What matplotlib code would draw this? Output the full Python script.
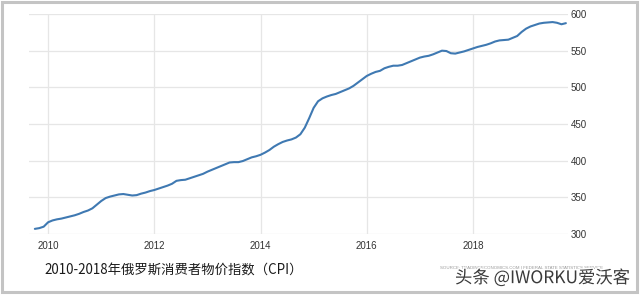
import matplotlib
matplotlib.use("Agg")
import matplotlib.pyplot as plt
import matplotlib.patheffects as pe
from matplotlib.patches import Rectangle
import numpy as np

# monthly CPI, Oct 2009 .. Oct 2019
start_year = 2009
start_month = 10
cpi = [
    307, 308, 310,
    316, 318.5, 320, 321, 322.5, 324, 325.5, 327.5, 330, 332, 335, 340,
    345, 349, 351, 352.5, 354, 354.5, 353.5, 352.5, 353, 355, 356.5, 358.5,
    360, 362, 364, 366, 368.5, 372.5, 373.5, 374, 376, 378, 380, 382,
    385, 387.5, 390, 392.5, 395, 397.5, 398, 398, 399.5, 402, 404.5, 406,
    408, 411, 414.5, 419, 422.5, 425.5, 427.5, 429, 431.5, 436, 445, 458,
    472, 481, 485, 487.5, 489.5, 491, 493.5, 496, 498.5, 502, 506.5, 511,
    515.5, 518.5, 521, 522.5, 526, 528, 529.5, 529.5, 530.5, 533, 535.5, 538,
    540.5, 542, 543, 545, 547.5, 550, 549.5, 546.5, 546, 547.5, 549, 551,
    553, 555, 556.5, 558, 560, 562.5, 564, 564.5, 565, 567.5, 570, 575.5,
    580, 583, 585, 587, 588, 588.5, 589, 588, 586, 587.5,
]
x_ticks = [2010, 2012, 2014, 2016, 2018]
y_ticks = [300, 350, 400, 450, 500, 550, 600]
title = "2010-2018年俄罗斯消费者物价指数（CPI）"
source = "SOURCE: TRADINGECONOMICS.COM | FEDERAL STATE STATISTICS SERVICE"
watermark = "头条 @IWORKU爱沃客"

t = start_year + (start_month - 1 + np.arange(len(cpi))) / 12.0

fig = plt.figure(figsize=(6.4, 2.95), dpi=100)
ax = fig.add_axes([29 / 640, 1 - 234 / 295, (568 - 29) / 640, 220 / 295])

ax.plot(t, cpi, color="#3f79b2", lw=1.5, solid_capstyle="round")

ax.set_xlim(2009.64, 2019.79)
ax.set_ylim(300, 600)
ax.set_xticks(x_ticks)
ax.set_yticks(y_ticks)
ax.yaxis.tick_right()
ax.grid(True, color="#e6e6e6", lw=0.9)
ax.set_axisbelow(True)
for s in ax.spines.values():
    s.set_visible(False)
ax.tick_params(length=0, labelsize=7, colors="#333333")
ax.tick_params(axis="y", pad=2)
ax.tick_params(axis="x", pad=5)
for lab in ax.get_xticklabels() + ax.get_yticklabels():
    lab.set_family("Liberation Sans")

fig.text(44 / 640, 1 - 271 / 295, title, fontsize=9.6, va="center", ha="left",
         color="#1a1a1a", family=["Noto Sans CJK SC", "DejaVu Sans"])
fig.text(440 / 640, 1 - 268 / 295, source, fontsize=3.2, va="center", ha="left",
         color="#9a9a9a", family="Liberation Sans")
fig.text(455 / 640, 1 - 278 / 295, watermark, fontsize=12.5, va="center", ha="left",
         color="#3a3a3a", family=["Noto Sans CJK SC", "DejaVu Sans"],
         path_effects=[pe.withStroke(linewidth=2, foreground="white")])

fig.patches.append(Rectangle((1.5 / 640, 1 - 291.5 / 295), 635 / 640, 290 / 295,
                             transform=fig.transFigure, fill=False,
                             edgecolor="#c4c4c4", lw=2.2))

fig.savefig("out.png", dpi=100)
